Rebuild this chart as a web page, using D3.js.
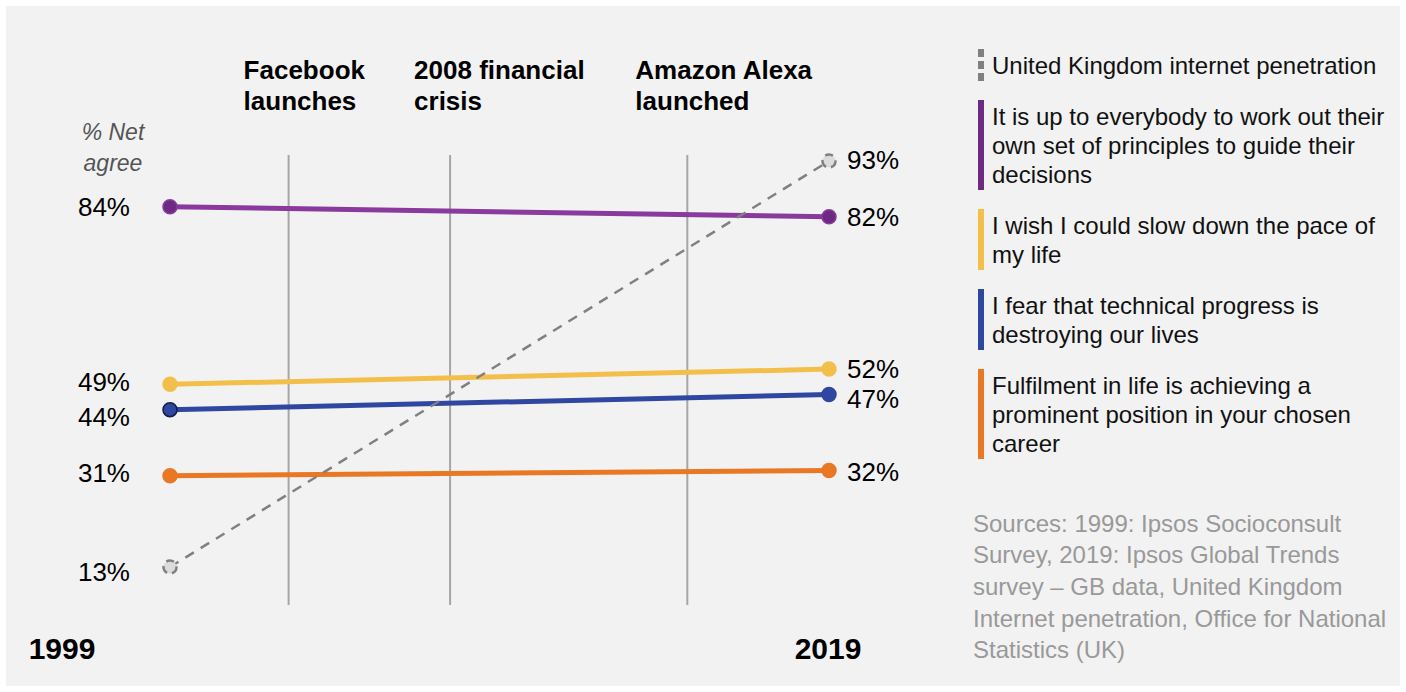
<!DOCTYPE html>
<html lang="en">
<head>
  <meta charset="utf-8">
  <title>Attitudes 1999 vs 2019</title>
  <style>
    body { margin:0; background:#fff; font-family:"Liberation Sans", Arial, sans-serif; }
    svg text { font-family:"Liberation Sans", Arial, sans-serif; }
  </style>
</head>
<body>
  <div id="chart"></div>
  <script src="https://cdn.jsdelivr.net/npm/d3@7"></script>
  <script>
    // data
    var years = [1999, 2019];
    var seriesNames = [
      "United Kingdom internet penetration",
      "It is up to everybody to work out their own set of principles to guide their decisions",
      "I wish I could slow down the pace of my life",
      "I fear that technical progress is destroying our lives",
      "Fulfilment in life is achieving a prominent position in your chosen career"
    ];
    var legendLines = [
      ["United Kingdom internet penetration"],
      ["It is up to everybody to work out their", "own set of principles to guide their", "decisions"],
      ["I wish I could slow down the pace of", "my life"],
      ["I fear that technical progress is", "destroying our lives"],
      ["Fulfilment in life is achieving a", "prominent position in your chosen", "career"]
    ];
    var values1999 = [13, 84, 49, 44, 31];
    var values2019 = [93, 82, 52, 47, 32];
    var colors = ["#808080", "#8a3a9d", "#f3bf4b", "#2f47a0", "#e87824"];
    var events = [
      {year: 2002.6, lines: ["Facebook", "launches"]},
      {year: 2007.5, lines: ["2008 financial", "crisis"]},
      {year: 2014.7, lines: ["Amazon Alexa", "launched"]}
    ];
    var sources = [
      "Sources: 1999: Ipsos Socioconsult",
      "Survey, 2019: Ipsos Global Trends",
      "survey \u2013 GB data, United Kingdom",
      "Internet penetration, Office for National",
      "Statistics (UK)"
    ];

    var W = 1406, H = 692;
    var svg = d3.select("#chart").append("svg")
        .attr("width", W).attr("height", H);

    svg.append("rect")
        .attr("x", 6).attr("y", 6)
        .attr("width", W - 12).attr("height", H - 12)
        .attr("fill", "#f2f2f2");

    var x = d3.scaleLinear().domain([1999, 2019]).range([170, 829]);
    var y = d3.scaleLinear().domain([0, 100]).range([633, 125.5]);

    // event lines
    var ev = svg.append("g");
    ev.selectAll("line").data(events).enter().append("line")
        .attr("x1", function(d){ return x(d.year); })
        .attr("x2", function(d){ return x(d.year); })
        .attr("y1", 155).attr("y2", 605)
        .attr("stroke", "#a6a6a6").attr("stroke-width", 2);

    var evDx = [-45, -36, -52];
    var evText = ev.selectAll("text").data(events).enter().append("text")
        .attr("x", function(d, i){ return x(d.year) + evDx[i]; })
        .attr("y", 79)
        .attr("font-size", 26).attr("font-weight", "bold").attr("fill", "#000");
    evText.selectAll("tspan").data(function(d){ return d.lines; }).enter().append("tspan")
        .attr("x", function(){ return d3.select(this.parentNode).attr("x"); })
        .attr("dy", function(d, i){ return i === 0 ? 0 : 31; })
        .text(function(d){ return d; });

    // axis label
    svg.append("text").attr("x", 113).attr("y", 140)
        .attr("text-anchor", "middle").attr("font-size", 23)
        .attr("font-style", "italic").attr("fill", "#555")
        .selectAll("tspan").data(["% Net", "agree"]).enter().append("tspan")
        .attr("x", 113).attr("dy", function(d, i){ return i === 0 ? 0 : 31; })
        .text(function(d){ return d; });

    // year labels
    svg.selectAll("text.year").data(years).enter().append("text")
        .attr("class", "year")
        .attr("x", function(d){ return x(d) + (d === 1999 ? -108 : 0); })
        .attr("y", 659)
        .attr("text-anchor", "middle")
        .attr("dx", function(d){ return d === 1999 ? 0 : -1; })
        .attr("font-size", 30).attr("font-weight", "bold")
        .text(function(d){ return d; });

    var series = seriesNames.map(function(n, i){
      return {name: n, i: i, vals: [values1999[i], values2019[i]], color: colors[i]};
    });

    // draw lines, solid ones first then dashed on top
    var order = [1, 2, 3, 4, 0];
    var lineGen = d3.line()
        .x(function(d, j){ return x(years[j]); })
        .y(function(d){ return y(d); });

    order.forEach(function(k){
      var s = series[k];
      var g = svg.append("g");
      var dashed = k === 0;
      g.append("path")
          .attr("d", lineGen(s.vals))
          .attr("fill", "none")
          .attr("stroke", s.color)
          .attr("stroke-width", dashed ? 2.5 : 5)
          .attr("stroke-dasharray", dashed ? "10,8" : null);
      g.selectAll("circle").data(s.vals).enter().append("circle")
          .attr("cx", function(d, j){ return x(years[j]); })
          .attr("cy", function(d){ return y(d); })
          .attr("r", dashed ? 6.5 : 7)
          .attr("fill", function(d, j){
            if (dashed) return "#dcdcdc";
            if (k === 1) return "#6c2a80";
            return s.color;
          })
          .attr("stroke", function(d, j){
            if (dashed) return "#808080";
            if (k === 3 && j === 0) return "#0d1f4d";
            if (k === 1) return "#8a3a9d";
            return s.color;
          })
          .attr("stroke-width", dashed ? 2.5 : 1.5)
          .attr("stroke-dasharray", dashed ? "8,5" : null);
    });

    // value labels (small nudges to avoid overlap)
    var nudgeL = [5, 0, -3, 7, -3];
    var nudgeR = [-1, 0, 0, 4, 1];
    series.forEach(function(s, k){
      svg.append("text")
          .attr("x", 130).attr("y", y(s.vals[0]) + nudgeL[k])
          .attr("dy", "0.36em")
          .attr("text-anchor", "end")
          .attr("font-size", 26).attr("fill", "#000")
          .text(s.vals[0] + "%");
      svg.append("text")
          .attr("x", 847).attr("y", y(s.vals[1]) + nudgeR[k])
          .attr("dy", "0.36em")
          .attr("font-size", 26).attr("fill", "#000")
          .text(s.vals[1] + "%");
    });

    // legend
    var legend = svg.append("g");
    var ly = 65;
    legendLines.forEach(function(lines, k){
      var top = ly - 16, bottom = ly + (lines.length - 1) * 29 + 16;
      if (k === 0) {
        legend.append("line")
            .attr("x1", 981).attr("x2", 981)
            .attr("y1", top).attr("y2", bottom)
            .attr("stroke", colors[0]).attr("stroke-width", 6)
            .attr("stroke-dasharray", "8,4");
      } else {
        legend.append("rect")
            .attr("x", 978).attr("y", top)
            .attr("width", 6).attr("height", bottom - top)
            .attr("fill", k === 1 ? "#6c2a80" : colors[k]);
      }
      var t = legend.append("text").attr("font-size", 24).attr("fill", "#111");
      lines.forEach(function(line, j){
        t.append("tspan")
            .attr("x", 992).attr("y", ly + j * 29).attr("dy", "0.36em")
            .text(line);
      });
      ly += lines.length * 29 + 22;
    });

    // sources
    svg.append("text").attr("font-size", 24).attr("fill", "#999")
        .selectAll("tspan").data(sources).enter().append("tspan")
        .attr("x", 973)
        .attr("y", function(d, i){ return 523 + i * 31.7; })
        .attr("dy", "0.36em")
        .text(function(d){ return d; });
  </script>
</body>
</html>
